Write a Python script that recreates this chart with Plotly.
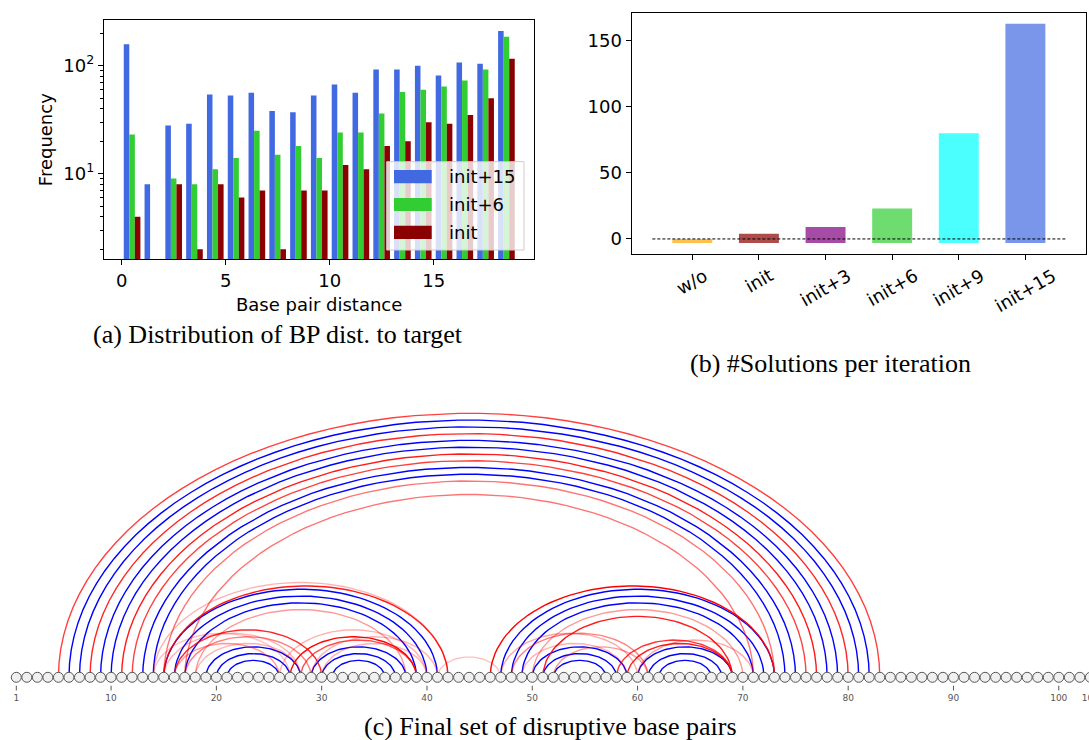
import numpy as np
import plotly.graph_objects as go

W, H = 1089, 740

# ---- (a) distribution of base pair distance to target ----
bp_distance = list(range(19))
freq_init15 = [158, 8, 28, 29, 54, 53, 56, 38, 37, 53, 67, 56, 92, 92, 100, 81, 107, 104, 210]
freq_init6 = [23, 0, 9, 8, 11, 14, 25, 15, 18, 14, 24, 24, 36, 57, 60, 64, 73, 92, 185]
freq_init = [4, 0, 8, 2, 8, 6, 7, 2, 7, 7, 12, 11, 18, 20, 30, 29, 35, 50, 116]

# ---- (b) number of solutions per iteration ----
iterations = ["w/o", "init", "init+3", "init+6", "init+9", "init+15"]
n_solutions = [0, 4, 9, 23, 80, 163]
bar_base = -3

# ---- (c) arc diagram ----
seq_len = 103
tick_pos = [1, 10, 20, 30, 40, 50, 60, 70, 80, 90, 100, 103]
target_pairs = [(6, 82), (7, 81), (9, 79), (10, 78), (13, 75), (14, 74),
                (15, 41), (16, 40), (17, 39), (19, 28), (20, 27), (21, 26),
                (29, 38), (30, 37), (31, 36),
                (47, 73), (48, 72), (49, 71), (50, 59), (51, 58), (52, 57),
                (60, 69), (61, 68), (62, 67)]
# disruptive pairs: (i, j, strength)
disruptive_pairs = [(5, 83, 0.75), (8, 80, 0.85), (11, 77, 0.9), (12, 76, 0.75),
                    (15, 73, 0.55), (17, 71, 0.55),
                    (14, 42, 0.3), (15, 42, 0.9), (18, 38, 0.4), (16, 30, 0.85),
                    (17, 29, 0.5), (14, 27, 0.25), (15, 28, 0.3), (16, 26, 0.4),
                    (18, 28, 0.3), (27, 39, 1.0), (28, 39, 0.7), (26, 40, 0.3),
                    (29, 41, 0.3), (30, 40, 0.3), (41, 47, 0.25),
                    (46, 73, 1.0), (50, 70, 0.4), (51, 69, 0.9), (58, 69, 0.8),
                    (59, 69, 0.9), (60, 71, 0.35), (47, 60, 0.35), (48, 61, 0.5),
                    (52, 61, 0.4), (49, 59, 0.3)]

FONT = "DejaVu Sans"
SERIF = "Liberation Serif"
ARC_RATIO = 0.643


def px(x):
    return x / W


def py(y):
    return 1 - y / H


def arc(i, j, n=60):
    t = np.linspace(0, np.pi, n)
    c, r = (i + j) / 2, (j - i) / 2
    return list(c + r * np.cos(t)), list(ARC_RATIO * r * np.sin(t))


fig = go.Figure()

# (a) grouped histogram bars
hist_series = [("init+15", freq_init15, "#4169e1"),
               ("init+6", freq_init6, "#32cd32"),
               ("init", freq_init, "#8b0000")]
for name, vals, col in hist_series:
    fig.add_trace(go.Bar(
        x=[b + 0.5 for b in bp_distance], y=[v if v > 0 else None for v in vals],
        name=name, marker=dict(color=col, line_width=0),
        xaxis="x", yaxis="y", showlegend=False))

# (b) solutions per iteration
bar_colors = ["orange", "darkred", "purple", "limegreen", "cyan", "royalblue"]
fig.add_trace(go.Bar(
    x=iterations, y=[v - bar_base for v in n_solutions], base=bar_base,
    width=0.6, marker=dict(color=bar_colors, opacity=0.7, line_width=0),
    xaxis="x2", yaxis="y2", showlegend=False))

# (c) arcs
bx, by = [], []
for i, j in target_pairs:
    ax_, ay_ = arc(i, j)
    bx += ax_ + [None]
    by += ay_ + [None]
fig.add_trace(go.Scatter(x=bx, y=by, mode="lines", line=dict(color="blue", width=1.4),
                         xaxis="x3", yaxis="y3", showlegend=False, hoverinfo="skip"))
for i, j, a in disruptive_pairs:
    ax_, ay_ = arc(i, j)
    fig.add_trace(go.Scatter(x=ax_, y=ay_, mode="lines",
                             line=dict(color="rgba(255,0,0,%.2f)" % a, width=1.4),
                             xaxis="x3", yaxis="y3", showlegend=False, hoverinfo="skip"))

# tick marks under nucleotides
tx, ty = [], []
for p in tick_pos:
    tx += [p, p, None]
    ty += [-0.8, -1.25, None]
fig.add_trace(go.Scatter(x=tx, y=ty, mode="lines", line=dict(color="#555", width=1),
                         xaxis="x3", yaxis="y3", showlegend=False, hoverinfo="skip"))
fig.add_trace(go.Scatter(x=tick_pos, y=[-2.05] * len(tick_pos), mode="text",
                         text=[str(p) for p in tick_pos],
                         textfont=dict(family=FONT, size=9, color="#555"),
                         xaxis="x3", yaxis="y3", showlegend=False, hoverinfo="skip"))
nuc = list(range(1, seq_len + 1))
fig.add_trace(go.Scatter(x=nuc, y=[0] * len(nuc), mode="markers",
                         marker=dict(size=10, color="#f0f0f0", line=dict(color="#555", width=1)),
                         xaxis="x3", yaxis="y3", showlegend=False, hoverinfo="skip"))

axis_common = dict(showgrid=False, zeroline=False, showline=True, linecolor="black",
                   linewidth=1.3, mirror=True, ticks="outside", ticklen=5, tickwidth=1.3,
                   tickcolor="black", tickfont=dict(family=FONT, size=18, color="black"))
title_font = dict(family=FONT, size=18, color="black")

fig.update_layout(
    width=W, height=H, margin=dict(l=0, r=0, t=0, b=0),
    paper_bgcolor="white", plot_bgcolor="white",
    barmode="group", bargap=0.2, bargroupgap=0,
    xaxis=dict(domain=[px(104), px(534.3)], range=[-0.85, 19.84], tickvals=[0, 5, 10, 15],
               title=dict(text="Base pair distance", font=title_font, standoff=8),
               anchor="y", **axis_common),
    yaxis=dict(domain=[py(259.3), py(20)], type="log", range=[0.207, 2.423],
               tickvals=[10, 100], ticktext=["10<sup>1</sup>", "10<sup>2</sup>"],
               minor=dict(ticks="outside", ticklen=3, tickcolor="black",
                          tickvals=[2, 3, 4, 5, 6, 7, 8, 9, 20, 30, 40, 50, 60, 70, 80, 90, 200]),
               title=dict(text="Frequency", font=title_font, standoff=6),
               anchor="x", **axis_common),
    xaxis2=dict(domain=[px(631.7), px(1086)], range=[-0.91, 5.91], showticklabels=False,
                anchor="y2", **axis_common),
    yaxis2=dict(domain=[py(254), py(12.7)], range=[-11.4, 171.4], tickvals=[0, 50, 100, 150],
                anchor="x2", **axis_common),
    xaxis3=dict(domain=[0, 1], range=[-0.548, 102.87], visible=False, anchor="y3"),
    yaxis3=dict(domain=[0, py(395)], range=[-5.955, 26.81], visible=False, anchor="x3"),
)

# dashed zero line in (b)
fig.add_shape(type="line", xref="x2", yref="y2", x0=-0.6, x1=5.6, y0=0, y1=0,
              line=dict(color="black", width=1, dash="3px,2px"), layer="above")

# rotated category labels in (b)
for lab in iterations:
    fig.add_annotation(x=lab, y=py(262), xref="x2", yref="paper", text=lab, textangle=-30,
                       showarrow=False, xanchor="center", yanchor="top",
                       font=dict(family=FONT, size=18, color="black"))

# legend of (a)
fig.add_shape(type="rect", xref="paper", yref="paper", x0=px(386.7), x1=px(524),
              y0=py(250), y1=py(161.7), line=dict(color="#cccccc", width=1),
              fillcolor="rgba(255,255,255,0.8)", layer="above")
for k, (name, vals, col) in enumerate(hist_series):
    yc = 176.7 + k * 27.8
    fig.add_shape(type="rect", xref="paper", yref="paper", x0=px(394), x1=px(431.7),
                  y0=py(yc + 6.6), y1=py(yc - 6.6), fillcolor=col, line_width=0, layer="above")
    fig.add_annotation(x=px(447), y=py(yc), xref="paper", yref="paper", text=name,
                       showarrow=False, xanchor="left", yanchor="middle",
                       font=dict(family=FONT, size=18, color="black"))

# captions
captions = [("(a) Distribution of BP dist. to target", 278, 335),
            ("(b) #Solutions per iteration", 830, 363),
            ("(c) Final set of disruptive base pairs", 550, 726)]
for text, cx, cy in captions:
    fig.add_annotation(x=px(cx), y=py(cy), xref="paper", yref="paper", text=text,
                       showarrow=False, xanchor="center", yanchor="middle",
                       font=dict(family=SERIF, size=26, color="black"))

fig.write_html("out.html", config={"displayModeBar": False},
               post_script="document.body.style.margin='0px';")
